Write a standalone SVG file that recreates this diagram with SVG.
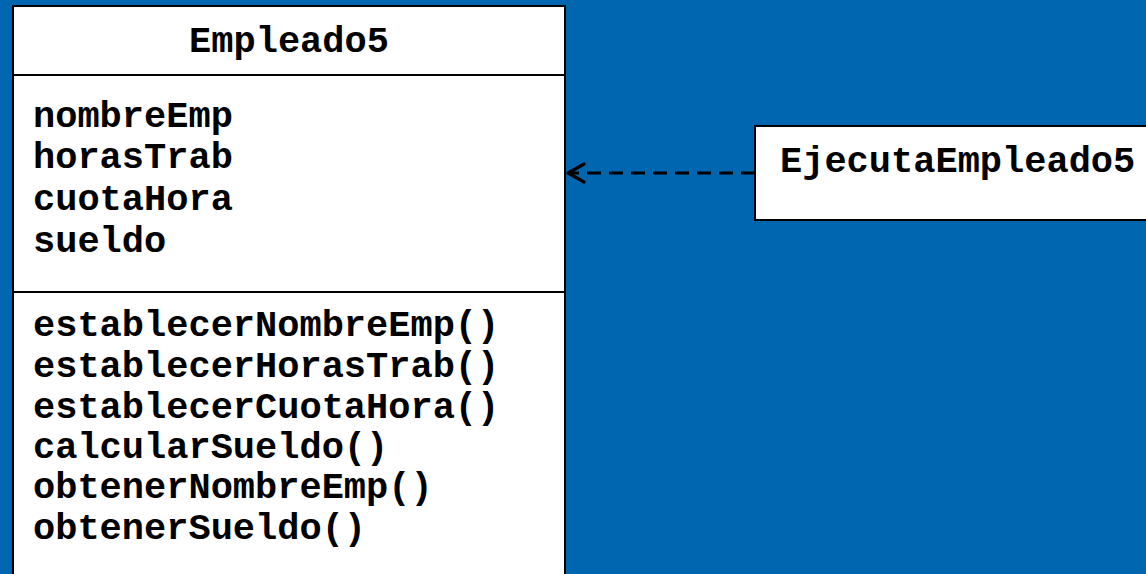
<svg xmlns="http://www.w3.org/2000/svg" width="1146" height="574" viewBox="0 0 1146 574">
  <style>
    .box { fill: #ffffff; stroke: #000000; stroke-width: 2; }
    .sep { stroke: #000000; stroke-width: 2; }
    .txt { font-family: "Liberation Mono", "Courier New", monospace; font-weight: bold; font-size: 37px; fill: #000000; }
    .dep { stroke: #000000; stroke-width: 3; fill: none; stroke-dasharray: 14 8; }
  </style>
  <defs>
    <!-- open arrowhead; tip sits at the end of the line -->
    <marker id="open" viewBox="0 0 20 22" refX="18" refY="11" markerWidth="20" markerHeight="22" markerUnits="userSpaceOnUse" orient="auto">
      <path d="M2,2 L18,11 L2,20" fill="none" stroke="#000000" stroke-width="3.2" stroke-linecap="round" stroke-linejoin="round"/>
    </marker>
  </defs>
  <rect x="0" y="0" width="1146" height="574" fill="#0066b0"/>

  <g id="empleado5">
    <rect class="box" x="13" y="6" width="552" height="580"/>
    <line class="sep" x1="13" y1="75" x2="565" y2="75"/>
    <line class="sep" x1="13" y1="292" x2="565" y2="292"/>
    <text class="txt" x="289" y="52" text-anchor="middle">Empleado5</text>
    <text class="txt" x="33" y="127">nombreEmp</text>
    <text class="txt" x="33" y="168">horasTrab</text>
    <text class="txt" x="33" y="210">cuotaHora</text>
    <text class="txt" x="33" y="252">sueldo</text>
    <text class="txt" x="33" y="336">establecerNombreEmp()</text>
    <text class="txt" x="33" y="377">establecerHorasTrab()</text>
    <text class="txt" x="33" y="418">establecerCuotaHora()</text>
    <text class="txt" x="33" y="458">calcularSueldo()</text>
    <text class="txt" x="33" y="498">obtenerNombreEmp()</text>
    <text class="txt" x="33" y="539">obtenerSueldo()</text>
  </g>

  <g id="ejecutaEmpleado5">
    <rect class="box" x="755" y="126" width="400" height="94"/>
    <text class="txt" x="780" y="172">EjecutaEmpleado5</text>
  </g>

  <g id="connectors">
    <line class="dep" x1="755" y1="173" x2="568" y2="173" marker-end="url(#open)"/>
  </g>
</svg>
